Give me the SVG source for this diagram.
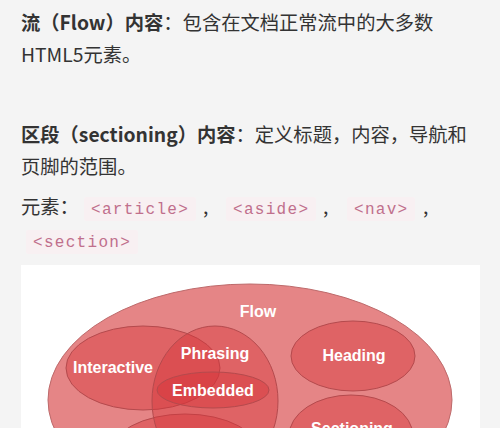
<svg xmlns="http://www.w3.org/2000/svg" width="500" height="428" viewBox="0 0 500 428">
<style>
.t{font-family:"Noto Sans CJK SC","Noto Sans",sans-serif;font-size:19.3px;fill:#333}
.b{font-weight:bold}
.c{font-family:"Liberation Mono","DejaVu Sans Mono",monospace;font-size:16px;letter-spacing:1.3px;fill:#c06f8c}
.cb{fill:#f8f0f2}
.flow{fill:#e58586;stroke:#bd6a6b;stroke-width:1}
.e{fill:rgba(214,52,58,0.42);stroke:#b44a4d;stroke-width:1}
.lbl{font-family:"Liberation Sans",Arial,sans-serif;font-weight:bold;font-size:16px;fill:#fff;text-anchor:middle}
</style>
<rect x="0" y="0" width="500" height="428" fill="#f4f4f4"/>
<text class="t" x="21" y="30"><tspan class="b">流（Flow）内容</tspan>：包含在文档正常流中的大多数</text>
<text class="t" x="21" y="62">HTML5元素。</text>
<text class="t" x="21" y="142"><tspan class="b">区段（sectioning）内容</tspan>：定义标题，内容，导航和</text>
<text class="t" x="21" y="174">页脚的范围。</text>
<text class="t" x="21" y="214">元素：</text>
<rect class="cb" x="84" y="197" width="112" height="24" rx="2"/>
<rect class="cb" x="226" y="197" width="90" height="24" rx="2"/>
<rect class="cb" x="347" y="197" width="68" height="24" rx="2"/>
<rect class="cb" x="26" y="230" width="112" height="24" rx="2"/>
<text class="c" x="91" y="214">&lt;article&gt;</text>
<text class="c" x="233" y="214">&lt;aside&gt;</text>
<text class="c" x="354" y="214">&lt;nav&gt;</text>
<text class="c" x="33" y="247">&lt;section&gt;</text>
<text class="t" x="203" y="214">,</text>
<text class="t" x="323" y="214">,</text>
<text class="t" x="423" y="214">,</text>
<rect x="21" y="265" width="459" height="163" fill="#fff"/>
<g id="flow"><ellipse class="flow" cx="250" cy="400" rx="202" ry="116"/><text class="lbl" x="258" y="317">Flow</text></g>
<g id="metadata"><ellipse class="e" cx="185" cy="455" rx="76" ry="41"/></g>
<g id="heading"><ellipse class="e" cx="353" cy="356" rx="62" ry="35"/><text class="lbl" x="354" y="361">Heading</text></g>
<g id="sectioning"><ellipse class="e" cx="351" cy="436" rx="62" ry="41"/><text class="lbl" x="352" y="434">Sectioning</text></g>
<g id="interactive"><ellipse class="e" cx="143" cy="368" rx="77" ry="42"/><text class="lbl" x="113" y="373">Interactive</text></g>
<g id="phrasing"><ellipse class="e" cx="215" cy="401" rx="63" ry="75"/><text class="lbl" x="215" y="359">Phrasing</text></g>
<g id="embedded"><ellipse class="e" cx="213" cy="390" rx="56" ry="18"/><text class="lbl" x="213" y="396">Embedded</text></g>
<g id="connectors"/>
</svg>
